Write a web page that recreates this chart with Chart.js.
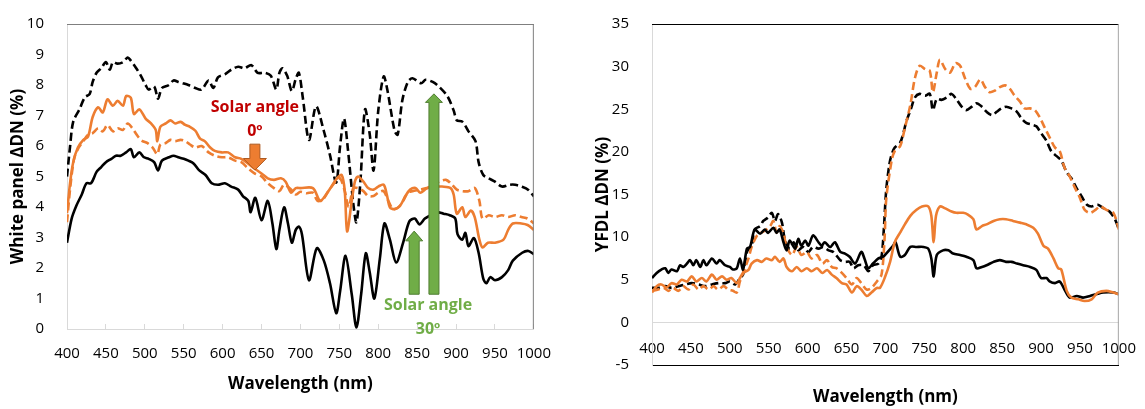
<!DOCTYPE html>
<html>
<head>
<meta charset="utf-8">
<script src="https://cdn.jsdelivr.net/npm/chart.js@4.4.1/dist/chart.umd.min.js"></script>
<style>
  body { margin: 0; background: #fff; }
  #wrapLeft { position: absolute; left: 0; top: 0; width: 572px; height: 409px; }
  #wrapRight { position: absolute; left: 572px; top: 0; width: 573px; height: 409px; }
</style>
</head>
<body>
<div id="wrapLeft"><canvas id="whiteChart"></canvas></div>
<div id="wrapRight"><canvas id="yfdlChart"></canvas></div>
<script>
// [wavelength nm, value %]
const whiteBlackDashed = [[400,5.0],[404,6.0],[408,6.8],[416,7.2],[423,7.6],[429,7.7],[433,8.1],[438,8.4],[444,8.55],[450,8.75],[455,8.5],[459,8.75],[465,8.7],[472,8.75],[478,8.9],[482,8.8],[489,8.55],[495,8.3],[501,8.0],[505,7.85],[512,7.95],[517,7.55],[522,7.9],[531,8.0],[537,8.15],[543,8.1],[550,8.05],[556,8.0],[565,7.9],[573,7.85],[582,8.15],[588,7.9],[594,8.25],[603,8.35],[611,8.5],[620,8.6],[628,8.55],[637,8.65],[645,8.4],[654,8.4],[662,8.3],[669,7.85],[673,8.4],[677,8.55],[683,8.3],[689,7.8],[694,8.2],[698,8.4],[703,7.6],[711,6.2],[720,7.3],[730,6.5],[738,5.7],[746,4.8],[751,6.0],[756,6.9],[761,5.9],[768,4.1],[772,3.5],[777,4.8],[783,7.2],[789,6.4],[794,5.2],[800,7.15],[807,8.28],[812,7.8],[821,6.5],[825,6.37],[831,7.5],[838,8.1],[844,8.22],[855,8.06],[861,8.17],[870,8.1],[878,7.95],[889,7.63],[897,7.16],[901,6.84],[908,6.8],[916,6.48],[925,6.16],[929,5.47],[935,5.05],[942,4.94],[950,4.83],[959,4.67],[969,4.73],[976,4.73],[984,4.67],[993,4.56],[1000,4.35]];
const whiteOrangeSolid = [[400,3.8],[404,4.8],[408,5.47],[414,5.95],[421,6.2],[427,6.3],[433,6.95],[440,7.27],[446,7.1],[452,7.53],[459,7.32],[465,7.48],[472,7.32],[476,7.64],[482,7.58],[486,7.05],[493,7.2],[501,6.9],[508,6.74],[514,6.53],[516,6.16],[520,6.63],[527,6.74],[533,6.84],[539,6.74],[546,6.79],[552,6.69],[558,6.63],[565,6.5],[571,6.24],[577,6.16],[584,5.95],[590,5.84],[599,5.79],[607,5.79],[616,5.63],[624,5.58],[633,5.42],[641,5.26],[650,5.1],[658,4.94],[666,4.89],[675,4.94],[681,4.83],[688,4.47],[694,4.62],[700,4.62],[716,4.62],[725,4.2],[730,4.3],[738,4.6],[747,4.94],[753,5.05],[757,4.52],[760,3.2],[766,4.2],[770,4.83],[774,5.0],[781,4.83],[787,4.62],[794,4.57],[800,4.67],[807,4.73],[811,4.41],[815,3.99],[821,3.93],[828,4.04],[835,4.36],[841,4.57],[848,4.62],[854,4.47],[860,4.57],[867,4.67],[874,4.67],[882,4.67],[893,4.62],[897,4.4],[901,3.78],[908,3.99],[912,3.67],[919,3.88],[924,3.67],[930,2.93],[934,2.67],[941,2.83],[950,2.83],[961,2.93],[967,3.25],[973,3.46],[984,3.46],[992,3.41],[1000,3.25]];
const whiteOrangeDashed = [[400,3.5],[404,4.6],[409,5.57],[414,5.9],[421,6.16],[427,6.37],[433,6.42],[440,6.58],[446,6.48],[452,6.69],[459,6.48],[465,6.58],[472,6.53],[478,6.74],[484,6.58],[491,6.32],[497,6.16],[503,6.1],[510,5.95],[516,5.73],[520,6.05],[527,6.1],[533,6.2],[539,6.16],[546,6.2],[552,6.16],[558,6.05],[565,5.95],[573,6.0],[582,5.79],[590,5.68],[599,5.63],[607,5.63],[616,5.52],[624,5.47],[633,5.26],[641,5.1],[650,5.0],[658,4.78],[666,4.62],[673,4.52],[679,4.73],[688,4.57],[694,4.41],[700,4.5],[708,4.45],[716,4.47],[722,4.2],[729,4.25],[736,4.52],[745,4.83],[751,4.94],[757,4.52],[762,4.0],[768,4.62],[774,4.62],[781,4.52],[787,4.36],[794,4.36],[800,4.47],[807,4.52],[813,4.2],[819,3.93],[826,3.99],[832,4.2],[838,4.47],[844,4.52],[854,4.57],[862,4.62],[870,4.67],[878,4.83],[887,4.89],[893,4.78],[901,4.57],[908,4.52],[916,4.52],[924,4.62],[930,4.2],[934,3.62],[942,3.73],[950,3.67],[959,3.73],[967,3.67],[976,3.73],[984,3.67],[992,3.62],[1000,3.46]];
const whiteBlackSolid = [[400,2.83],[406,3.62],[412,4.04],[419,4.41],[425,4.78],[431,4.78],[438,5.15],[444,5.31],[450,5.47],[457,5.58],[463,5.68],[469,5.68],[476,5.79],[482,5.9],[486,5.63],[493,5.79],[499,5.63],[505,5.58],[512,5.47],[517,5.2],[522,5.52],[531,5.63],[537,5.68],[543,5.63],[550,5.58],[556,5.52],[563,5.42],[570,5.2],[578,5.05],[586,4.78],[594,4.73],[603,4.78],[611,4.67],[620,4.57],[626,4.36],[633,4.2],[636,3.83],[642,4.3],[650,3.57],[658,4.2],[664,3.46],[669,2.62],[673,3.25],[679,3.99],[684,3.46],[689,2.83],[694,3.25],[698,3.36],[702,3.1],[711,1.6],[721,2.65],[730,2.25],[738,1.5],[746,0.52],[751,1.24],[758,2.4],[766,1.13],[772,0.05],[778,1.13],[784,2.48],[789,1.87],[795,1.0],[802,2.29],[808,3.46],[815,2.93],[823,2.18],[832,2.83],[840,3.53],[847,3.62],[853,3.43],[860,3.62],[867,3.73],[875,3.83],[884,3.78],[892,3.73],[899,3.62],[902,3.1],[908,2.93],[912,3.15],[916,2.72],[923,2.98],[929,2.5],[935,1.65],[939,1.5],[944,1.7],[950,1.6],[959,1.7],[967,1.93],[973,2.24],[985,2.5],[993,2.56],[1000,2.45]];

const yfdlBlackSolid = [[400,5.2],[406,5.8],[412,6.2],[417,6.35],[421,5.8],[425,6.2],[432,6.0],[436,6.7],[440,6.5],[445,6.9],[449,7.3],[453,6.7],[457,7.3],[462,6.5],[466,7.3],[470,6.7],[477,7.5],[483,6.9],[487,7.3],[494,6.7],[500,6.5],[504,6.2],[509,6.35],[513,7.5],[517,6.2],[522,8.65],[526,8.85],[532,10.9],[539,10.4],[545,10.9],[549,10.5],[556,11.1],[560,10.5],[564,10.9],[569,9.4],[573,8.45],[577,9.6],[584,8.65],[588,9.8],[592,9.0],[597,9.6],[601,9.0],[607,10.2],[614,9.4],[618,9.0],[622,9.4],[629,8.85],[635,9.4],[642,8.26],[648,8.07],[654,7.7],[661,6.9],[669,8.26],[673,7.5],[678,6.35],[684,6.9],[691,7.5],[697,7.7],[701,8.07],[710,9.0],[713,9.4],[719,7.7],[725,7.9],[732,8.85],[740,8.85],[749,8.85],[755,8.65],[759,7.5],[762,5.4],[766,7.9],[774,8.45],[781,8.45],[787,8.07],[796,7.9],[804,7.7],[813,7.3],[817,6.35],[824,6.5],[830,6.7],[839,7.1],[847,7.3],[855,7.1],[862,7.1],[869,6.9],[877,6.7],[886,6.5],[894,6.15],[900,5.2],[907,5.2],[911,4.8],[918,4.6],[924,4.8],[931,3.7],[937,2.9],[946,3.1],[954,2.9],[963,3.1],[971,3.3],[980,3.5],[993,3.5],[1000,3.3]];
const yfdlOrangeSolid = [[400,3.5],[406,4.25],[412,4.45],[419,4.1],[425,4.6],[432,4.45],[438,5.0],[445,4.8],[451,5.4],[457,4.8],[464,5.2],[470,4.8],[477,5.6],[483,5.0],[490,5.4],[496,5.0],[502,5.2],[509,4.6],[513,5.2],[517,5.8],[524,6.15],[528,6.9],[535,7.3],[541,7.1],[547,7.5],[554,7.3],[558,7.7],[564,7.1],[569,7.5],[573,6.5],[580,6.0],[586,6.5],[592,6.0],[599,6.35],[605,6.0],[612,6.35],[619,5.8],[625,6.15],[631,5.6],[637,5.2],[644,4.6],[650,4.45],[657,3.5],[663,4.25],[669,3.85],[676,3.1],[682,3.5],[689,4.05],[693,4.05],[699,5.2],[706,7.1],[712,9.4],[719,10.55],[725,11.5],[732,12.5],[740,13.2],[747,13.6],[755,13.6],[759,12.5],[762,9.4],[765,12.5],[770,13.6],[776,13.4],[785,13.0],[791,12.85],[800,12.85],[806,12.65],[813,12.1],[817,10.9],[824,11.3],[830,11.5],[839,11.9],[847,12.1],[855,12.1],[864,11.9],[873,11.7],[881,11.5],[890,11.1],[896,10.4],[903,9.0],[909,8.65],[916,7.5],[922,6.35],[926,6.2],[933,3.7],[939,2.9],[948,2.7],[956,2.5],[965,2.7],[973,3.5],[984,3.7],[993,3.5],[1000,3.3]];
const yfdlBlackDashed = [[400,4.05],[408,4.05],[417,4.25],[425,4.05],[434,4.25],[443,4.45],[451,4.6],[460,4.45],[468,4.25],[477,4.45],[485,4.6],[494,4.6],[500,4.8],[507,4.45],[513,5.2],[517,5.6],[522,8.26],[528,9.0],[532,10.9],[539,11.3],[543,11.9],[549,12.3],[554,12.85],[558,11.9],[562,12.7],[567,11.7],[571,9.6],[577,8.65],[582,9.4],[588,8.45],[594,8.85],[601,8.26],[607,8.85],[614,8.65],[620,8.85],[627,8.45],[633,8.26],[642,7.3],[648,7.1],[654,7.1],[659,6.35],[665,6.7],[672,6.7],[678,6.0],[684,6.7],[691,6.9],[695,7.7],[698,11.0],[701,15.5],[705,18.5],[708,19.7],[712,20.5],[719,21.1],[723,22.2],[727,23.6],[733,25.1],[738,26.4],[744,26.8],[751,26.6],[757,26.8],[761,24.9],[766,26.2],[772,26.1],[779,26.4],[785,26.8],[791,26.2],[798,25.3],[804,24.9],[811,25.3],[817,25.7],[824,25.3],[830,24.7],[837,24.3],[843,24.7],[849,25.1],[855,25.3],[862,25.1],[869,24.7],[875,23.9],[881,23.4],[888,23.2],[894,23.0],[900,22.2],[907,21.3],[913,20.1],[920,19.5],[926,19.0],[933,17.6],[939,16.9],[946,15.7],[952,14.8],[959,13.8],[965,13.6],[973,13.8],[980,13.4],[988,13.0],[995,12.1],[1000,10.9]];
const yfdlOrangeDashed = [[400,3.7],[408,3.85],[415,4.05],[421,3.7],[427,4.05],[434,3.7],[440,4.25],[447,3.85],[453,4.45],[460,3.85],[466,4.25],[473,3.85],[479,4.25],[485,3.85],[492,4.25],[498,3.85],[504,3.7],[509,3.5],[513,4.8],[517,5.8],[524,7.5],[528,8.85],[535,10.2],[541,10.55],[547,10.9],[552,11.3],[556,11.9],[560,10.55],[564,11.3],[569,10.4],[573,8.85],[580,7.9],[586,8.85],[592,7.9],[599,8.26],[605,7.5],[612,7.9],[619,6.9],[625,7.3],[631,6.5],[637,6.35],[644,5.8],[650,5.2],[657,4.45],[663,5.2],[669,4.6],[676,3.85],[682,4.05],[689,4.8],[695,5.6],[699,10.0],[701,14.4],[708,19.0],[712,20.1],[719,20.7],[725,22.8],[732,25.5],[738,28.7],[744,30.1],[751,29.7],[757,29.5],[761,27.0],[766,29.3],[770,30.8],[777,29.7],[783,29.3],[790,30.4],[796,30.1],[802,28.7],[809,27.4],[815,27.6],[822,28.5],[828,27.6],[834,27.0],[841,27.2],[847,27.6],[854,27.8],[860,27.4],[866,26.6],[873,25.9],[879,25.1],[886,25.1],[892,24.9],[898,24.1],[905,22.8],[911,21.7],[918,20.5],[924,20.1],[930,18.2],[937,17.1],[943,15.9],[950,14.6],[956,13.2],[963,12.85],[970,13.2],[976,13.6],[984,13.2],[993,12.85],[1000,10.9]];

const ORANGE = '#ED7D31';
const FONT = 'Open Sans';

const line = (pts, color, dashed) => ({
    data: pts.map(p => ({x: p[0], y: p[1]})),
    borderColor: color,
    borderWidth: 2.6,
    borderDash: dashed ? [8, 4] : [],
    pointRadius: 0,
    tension: 0.3,
    fill: false
})

// top / right frame lines of the plot area
const frame = {
    id: 'frame',
    afterDraw(chart, args, opts) {
        const {ctx, chartArea: a} = chart
        ctx.save()
        ctx.lineWidth = 1
        ctx.strokeStyle = opts.top
        ctx.beginPath(); ctx.moveTo(a.left, a.top + 0.5); ctx.lineTo(a.right, a.top + 0.5); ctx.stroke()
        ctx.strokeStyle = opts.right
        ctx.beginPath(); ctx.moveTo(a.right - 0.5, a.top); ctx.lineTo(a.right - 0.5, a.bottom); ctx.stroke()
        ctx.restore()
    }
}

const arrow = (ctx, x, yTail, yBase, yTip, shaft, head, fill, stroke) => {
    ctx.beginPath()
    ctx.moveTo(x - shaft, yTail)
    ctx.lineTo(x - shaft, yBase)
    ctx.lineTo(x - head, yBase)
    ctx.lineTo(x, yTip)
    ctx.lineTo(x + head, yBase)
    ctx.lineTo(x + shaft, yBase)
    ctx.lineTo(x + shaft, yTail)
    ctx.closePath()
    ctx.fillStyle = fill
    ctx.fill()
    ctx.strokeStyle = stroke
    ctx.lineWidth = 1
    ctx.stroke()
}

// solar angle notes on the white panel chart (data coordinates)
const notes = {
    id: 'notes',
    afterDraw(chart) {
        const {ctx} = chart
        const X = v => chart.scales.x.getPixelForValue(v)
        const Y = v => chart.scales.y.getPixelForValue(v)
        ctx.save()
        ctx.textAlign = 'center'
        ctx.textBaseline = 'middle'
        ctx.font = 'bold 16px "' + FONT + '"'
        ctx.fillStyle = '#C00000'
        ctx.fillText('Solar angle', X(641.5), Y(7.25))
        ctx.fillText('0º', X(641.5), Y(6.48))
        arrow(ctx, X(641.5), Y(6.06), Y(5.59), Y(5.21), 5, 11.5, ORANGE, '#AE5A21')
        arrow(ctx, X(871.6), Y(1.14), Y(7.43), Y(7.71), 5, 8.5, '#70AD47', '#507E32')
        arrow(ctx, X(846.2), Y(1.14), Y(2.89), Y(3.21), 5, 8.5, '#70AD47', '#507E32')
        ctx.fillStyle = '#70AD47'
        ctx.fillText('Solar angle', X(864), Y(0.78))
        ctx.fillText('30º', X(864), Y(-0.03))
        ctx.restore()
    }
}

const tickFont = {family: FONT, size: 15}
const titleFont = {family: FONT, size: 17, weight: 'bold'}
const plain = v => String(v)

new Chart('whiteChart', {
    type: 'line',
    data: {
        datasets: [
            line(whiteOrangeDashed, ORANGE, true),
            line(whiteOrangeSolid, ORANGE, false),
            line(whiteBlackSolid, '#000', false),
            line(whiteBlackDashed, '#000', true)
        ]
    },
    options: {
        responsive: true,
        maintainAspectRatio: false,
        animation: false,
        layout: {padding: {left: 0, top: 14, right: 33, bottom: 0}},
        plugins: {legend: {display: false}, tooltip: {enabled: false}, frame: {top: '#7f7f7f', right: '#7f7f7f'}},
        scales: {
            x: {
                type: 'linear', min: 400, max: 1000,
                ticks: {stepSize: 50, autoSkip: false, maxRotation: 0, color: '#000', font: tickFont, padding: 21, callback: plain},
                grid: {drawOnChartArea: false, drawTicks: true, tickLength: -5, color: '#d9d9d9'},
                border: {color: '#d9d9d9'},
                title: {display: true, text: 'Wavelength (nm)', color: '#000', font: titleFont, padding: {top: 0, bottom: 15}},
                afterFit: s => { s.height = 80 }
            },
            y: {
                min: 0, max: 10,
                ticks: {stepSize: 1, color: '#000', font: tickFont, padding: 15, callback: plain},
                grid: {display: false},
                border: {color: '#d9d9d9'},
                title: {display: true, text: 'White panel ΔDN (%)', color: '#000', font: titleFont, padding: {top: 8, bottom: 0}},
                afterFit: s => { s.width = 67 }
            }
        }
    },
    plugins: [frame, notes]
})

new Chart('yfdlChart', {
    type: 'line',
    data: {
        datasets: [
            line(yfdlOrangeSolid, ORANGE, false),
            line(yfdlBlackSolid, '#000', false),
            line(yfdlOrangeDashed, ORANGE, true),
            line(yfdlBlackDashed, '#000', true)
        ]
    },
    options: {
        responsive: true,
        maintainAspectRatio: false,
        animation: false,
        layout: {padding: {left: 0, top: 17, right: 26, bottom: 0}},
        plugins: {legend: {display: false}, tooltip: {enabled: false}, frame: {top: '#000', right: '#a6a6a6'}},
        scales: {
            x: {
                type: 'linear', min: 400, max: 1000,
                ticks: {display: false},
                grid: {display: false},
                border: {color: '#000'},
                title: {display: true, text: 'Wavelength (nm)', color: '#000', font: titleFont, padding: {top: 0, bottom: 2}},
                afterFit: s => { s.height = 44 }
            },
            x2: {
                type: 'linear', min: 400, max: 1000, position: {y: 0},
                ticks: {stepSize: 50, autoSkip: false, maxRotation: 0, color: '#000', font: tickFont, padding: 9, callback: plain},
                grid: {display: false},
                border: {color: '#d9d9d9'}
            },
            y: {
                min: -5, max: 35,
                ticks: {stepSize: 5, color: '#000', font: tickFont, padding: 15, callback: plain},
                grid: {display: false},
                border: {color: '#d9d9d9'},
                title: {display: true, text: 'YFDL ΔDN (%)', color: '#000', font: titleFont, padding: {top: 21, bottom: 0}},
                afterFit: s => { s.width = 80 }
            }
        }
    },
    plugins: [frame]
})
</script>
</body>
</html>
